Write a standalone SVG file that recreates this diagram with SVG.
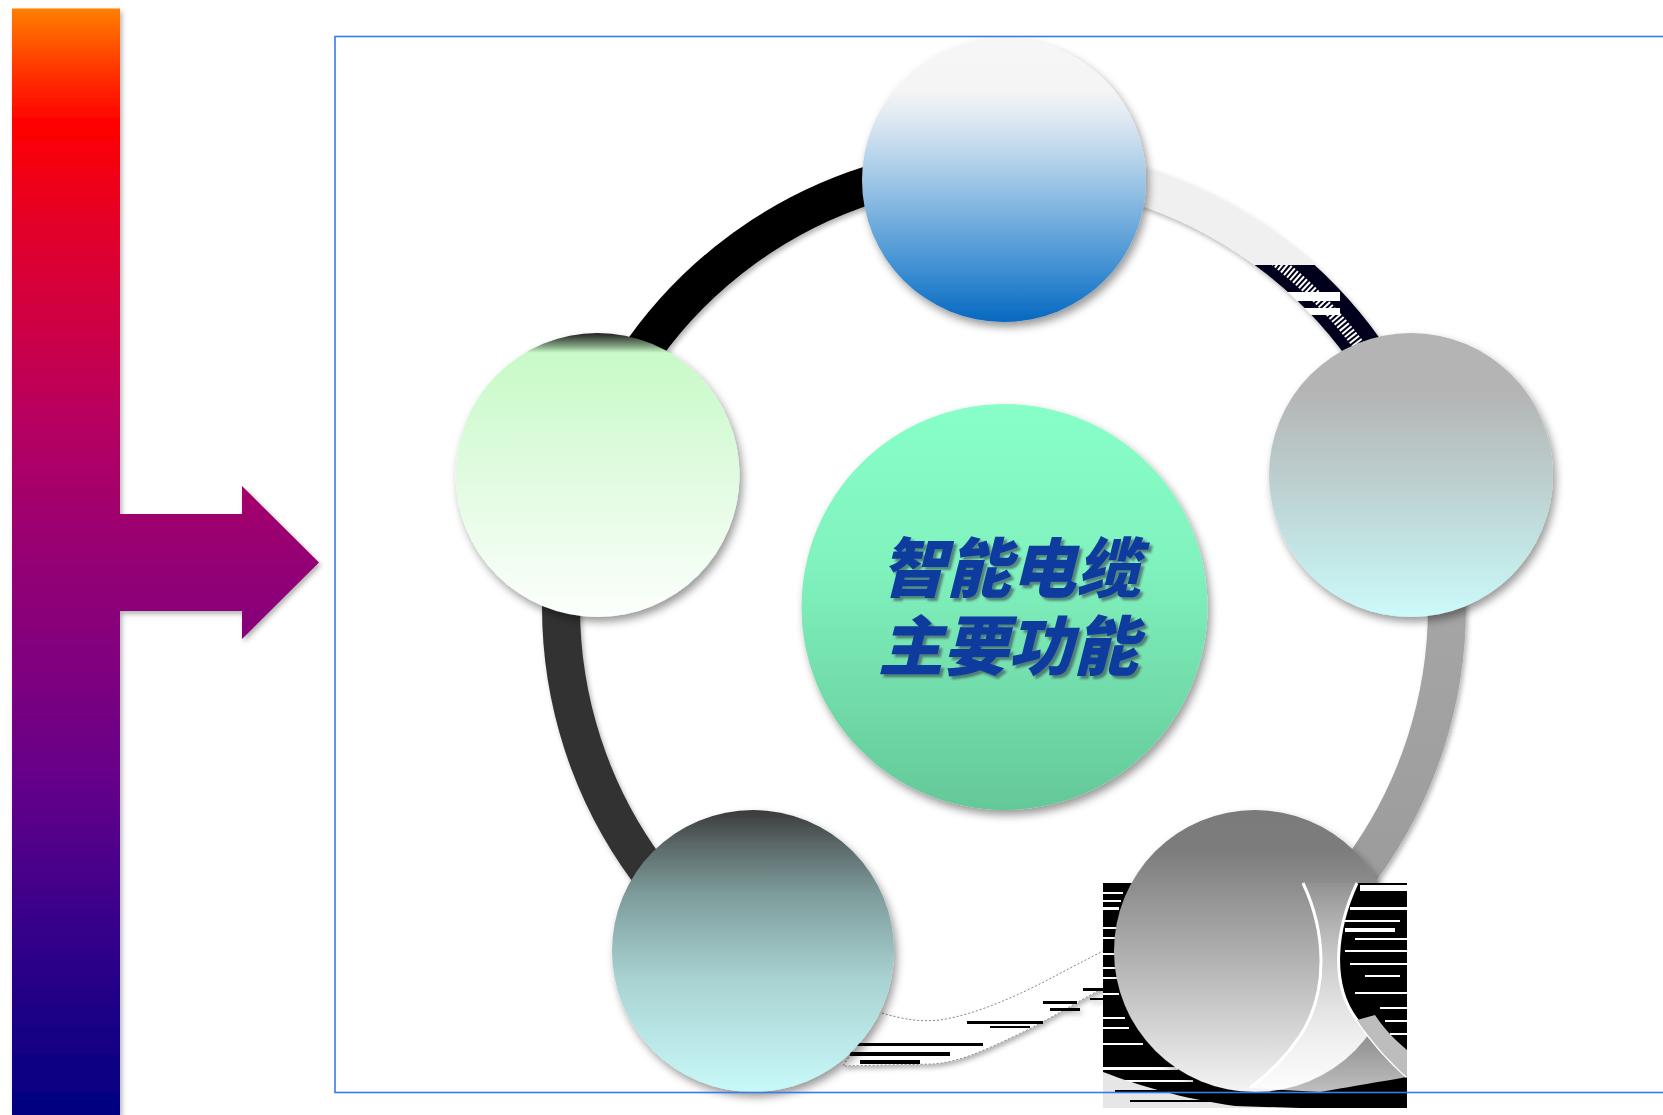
<svg xmlns="http://www.w3.org/2000/svg" width="1663" height="1115" viewBox="0 0 1663 1115">
<defs>
<style>
.seg{fill:none;stroke-width:38}
.node{filter:url(#sh)}
.lbl{font-family:"Noto Sans CJK SC","Noto Sans CJK JP",sans-serif;font-size:65px;font-weight:900;font-style:italic;fill:#0D3B9E;text-anchor:middle;filter:url(#tsh)}
.wst{fill:#fff}
.bst{fill:#000}
</style>
<linearGradient id="barG" gradientUnits="userSpaceOnUse" x1="0" y1="8" x2="0" y2="1115">
<stop offset="0" stop-color="#FF8000"/>
<stop offset="0.06" stop-color="#FF3000"/>
<stop offset="0.105" stop-color="#FF0000"/>
<stop offset="0.19" stop-color="#E50026"/>
<stop offset="0.29" stop-color="#CC0046"/>
<stop offset="0.38" stop-color="#B40062"/>
<stop offset="0.5" stop-color="#940074"/>
<stop offset="0.6" stop-color="#7E007E"/>
<stop offset="0.7" stop-color="#64008A"/>
<stop offset="0.83" stop-color="#36008A"/>
<stop offset="1" stop-color="#000080"/>
</linearGradient>
<linearGradient id="gTop" x1="0" y1="0" x2="0" y2="1">
<stop offset="0" stop-color="#F6F6F6"/>
<stop offset="0.18" stop-color="#F5F5F5"/>
<stop offset="0.29" stop-color="#DDE8F2"/>
<stop offset="0.47" stop-color="#A8CCE8"/>
<stop offset="0.64" stop-color="#74AEDD"/>
<stop offset="0.82" stop-color="#3D8ED2"/>
<stop offset="1" stop-color="#0568C0"/>
</linearGradient>
<linearGradient id="gRight" x1="0" y1="0" x2="0" y2="1">
<stop offset="0" stop-color="#B4B4B4"/>
<stop offset="0.2" stop-color="#B4B4B4"/>
<stop offset="0.5" stop-color="#BCCDCD"/>
<stop offset="0.8" stop-color="#C4E8E8"/>
<stop offset="1" stop-color="#CCFAFA"/>
</linearGradient>
<linearGradient id="gBR" x1="0" y1="0" x2="0" y2="1">
<stop offset="0" stop-color="#7A7A7A"/>
<stop offset="0.15" stop-color="#7D7D7D"/>
<stop offset="1" stop-color="#F4F4F4"/>
</linearGradient>
<linearGradient id="gBL" x1="0" y1="0" x2="0" y2="1">
<stop offset="0" stop-color="#3A3A3A"/>
<stop offset="0.12" stop-color="#5A6767"/>
<stop offset="0.3" stop-color="#7E9C9C"/>
<stop offset="0.6" stop-color="#A9D2D2"/>
<stop offset="1" stop-color="#C8F9F9"/>
</linearGradient>
<linearGradient id="gLeft" x1="0" y1="0" x2="0" y2="1">
<stop offset="0" stop-color="#1E1E1E"/>
<stop offset="0.045" stop-color="#7FA07F"/>
<stop offset="0.07" stop-color="#C8FAC8"/>
<stop offset="0.5" stop-color="#E0FBE0"/>
<stop offset="1" stop-color="#FCFFFC"/>
</linearGradient>
<linearGradient id="gCenter" x1="0" y1="0" x2="0" y2="1">
<stop offset="0" stop-color="#88FFC8"/>
<stop offset="0.4" stop-color="#80F2BE"/>
<stop offset="1" stop-color="#64C898"/>
</linearGradient>
<linearGradient id="gSeg3" x1="0" y1="0" x2="0" y2="1">
<stop offset="0" stop-color="#AAAAAA"/>
<stop offset="1" stop-color="#999999"/>
</linearGradient>
<linearGradient id="gHour" x1="0" y1="0" x2="0" y2="1">
<stop offset="0" stop-color="#fff" stop-opacity="0.05"/>
<stop offset="0.5" stop-color="#fff" stop-opacity="0.4"/>
<stop offset="1" stop-color="#fff" stop-opacity="0.75"/>
</linearGradient>
<filter id="sh" x="-20%" y="-20%" width="140%" height="140%">
<feDropShadow dx="3" dy="5" stdDeviation="4" flood-color="#000" flood-opacity="0.4"/>
</filter>
<filter id="ssh" x="-10%" y="-10%" width="120%" height="120%">
<feDropShadow dx="2" dy="3" stdDeviation="2.5" flood-color="#000" flood-opacity="0.3"/>
</filter>
<filter id="tsh" x="-10%" y="-20%" width="120%" height="140%">
<feDropShadow dx="3" dy="3" stdDeviation="1.2" flood-color="#334" flood-opacity="0.55"/>
</filter>
<clipPath id="c2"><rect x="1255" y="265" width="130" height="100"/></clipPath>
<mask id="m2" maskUnits="userSpaceOnUse" x="0" y="0" width="1663" height="1115">
<rect x="0" y="0" width="1663" height="1115" fill="#000"/>
<path d="M 1004 164 A 443 443 0 0 1 1425.3 470.1" fill="none" stroke="#fff" stroke-width="38"/>
</mask>
</defs>

<rect x="0" y="0" width="1663" height="1115" fill="#fff"/>

<g id="bar-arrow" filter="url(#ssh)">
<path d="M 12 8.5 H 120 V 514 H 242 V 486 L 319 562.5 L 242 639 V 611 H 120 V 1115 H 12 Z" fill="url(#barG)"/>
</g>

<g id="connectors" filter="url(#ssh)">
<path class="seg" d="M 582.7 470.1 A 443 443 0 0 1 1004 164" stroke="#000"/>
<path class="seg" d="M 1004 164 A 443 443 0 0 1 1425.3 470.1" stroke="#F0F0F0"/>
<path class="seg" d="M 1425.3 470.1 A 443 443 0 0 1 1264.4 965.4" stroke="url(#gSeg3)"/>
<path class="seg" d="M 743.6 965.4 A 443 443 0 0 1 582.7 470.1" stroke="#333"/>
<g mask="url(#m2)">
<rect x="1255" y="265" width="130" height="100" fill="#02021A"/>
<path d="M 1004 164 A 455 455 0 0 1 1425.3 470.1" fill="none" stroke="#fff" stroke-width="12" stroke-dasharray="2 2" clip-path="url(#c2)"/>
<rect class="wst" x="1275" y="292" width="65" height="9"/>
<rect class="wst" x="1290" y="308" width="50" height="7"/>
</g>
<path d="M 878 1012 C 905 1020, 920 1022, 940 1020 C 975 1015, 1020 995, 1057 975 L 1105 950 L 1105 987 C 1075 1003, 1045 1022, 1017 1035 C 985 1050, 960 1062, 933 1064 L 843 1066 Z" fill="#fff" stroke="#888" stroke-width="1" stroke-dasharray="2 2"/>
<g id="bottom-streaks">
<rect class="bst" x="857" y="1043" width="126" height="3"/>
<rect class="bst" x="850" y="1052" width="100" height="4"/>
<rect class="bst" x="860" y="1060" width="60" height="4"/>
<rect class="bst" x="967" y="1021" width="76" height="3"/>
<rect class="bst" x="990" y="1026" width="40" height="2"/>
<rect class="bst" x="1043" y="1001" width="34" height="3"/>
<rect class="bst" x="1050" y="1008" width="30" height="3"/>
<rect class="bst" x="1083" y="988" width="20" height="3"/>
<rect class="bst" x="1090" y="998" width="13" height="2"/>
</g>
</g>

<g id="artifact-br">
<rect x="1103" y="883" width="304" height="225" fill="#000"/>
<rect class="wst" x="1103" y="892" width="20" height="2"/>
<rect class="wst" x="1103" y="900" width="18" height="2"/>
<rect class="wst" x="1103" y="907" width="16" height="3"/>
<rect class="wst" x="1103" y="927" width="15" height="2"/>
<rect class="wst" x="1103" y="937" width="14" height="2"/>
<rect class="wst" x="1103" y="953" width="14" height="2"/>
<rect class="wst" x="1103" y="967" width="14" height="2"/>
<rect class="wst" x="1103" y="977" width="15" height="2"/>
<rect class="wst" x="1103" y="993" width="16" height="2"/>
<rect class="wst" x="1103" y="1017" width="22" height="2"/>
<rect class="wst" x="1103" y="1027" width="26" height="2"/>
<rect class="wst" x="1103" y="1043" width="40" height="2"/>
<rect class="wst" x="1103" y="1067" width="75" height="3"/>
<rect class="wst" x="1103" y="1080" width="90" height="2"/>
<path d="M 1103 1072 C 1140 1086, 1180 1098, 1235 1106 L 1300 1108 L 1103 1108 Z" fill="#E6E6E6"/>
<rect class="bst" x="1115" y="1090" width="60" height="2"/>
<rect class="bst" x="1130" y="1100" width="90" height="2"/>
</g>

<g id="node-top" class="node"><circle cx="1004" cy="180" r="142" fill="url(#gTop)"/></g>
<g id="node-right" class="node"><circle cx="1411" cy="475" r="142" fill="url(#gRight)"/></g>
<g id="node-bottom-right" class="node"><circle cx="1255" cy="951" r="141" fill="url(#gBR)"/></g>
<g id="node-bottom-left" class="node"><circle cx="753" cy="951" r="141" fill="url(#gBL)"/></g>
<g id="node-left" class="node"><circle cx="597.5" cy="475" r="142" fill="url(#gLeft)"/></g>
<g id="node-center" class="node">
<circle cx="1004.5" cy="607" r="203" fill="url(#gCenter)"/>
<text class="lbl"><tspan x="1011" y="592">智能电缆</tspan><tspan x="1008" y="670">主要功能</tspan></text>
</g>

<g id="artifact-br-over">
<path d="M 1357 883 C 1335 930, 1330 985, 1357 1020 C 1372 1042, 1390 1062, 1407 1077 L 1407 883 Z" fill="#000"/>
<path d="M 1303 883 C 1325 930, 1330 990, 1300 1036 C 1285 1058, 1270 1072, 1250 1088 L 1320 1092 C 1360 1085, 1390 1080, 1407 1077 C 1390 1062, 1372 1042, 1357 1020 C 1330 985, 1335 930, 1357 883 Z" fill="url(#gHour)"/>
<path d="M 1303 883 C 1325 930, 1330 990, 1300 1036 C 1285 1058, 1270 1072, 1250 1088" fill="none" stroke="#fff" stroke-width="3"/>
<path d="M 1357 883 C 1335 930, 1330 985, 1357 1020 C 1372 1042, 1390 1062, 1407 1077" fill="none" stroke="#fff" stroke-width="3"/>
<path d="M 1357 1020 C 1372 1042, 1390 1062, 1407 1077 L 1407 1050 C 1395 1040, 1385 1030, 1375 1015 Z" fill="#BDBDBD"/>
<rect class="wst" x="1360" y="885" width="47" height="6"/>
<rect class="wst" x="1350" y="907" width="57" height="3"/>
<rect class="wst" x="1345" y="920" width="55" height="2"/>
<rect class="wst" x="1345" y="928" width="50" height="4"/>
<rect class="wst" x="1355" y="938" width="52" height="2"/>
<rect class="wst" x="1345" y="950" width="62" height="2"/>
<rect class="wst" x="1350" y="963" width="57" height="2"/>
<rect class="wst" x="1365" y="975" width="35" height="2"/>
<rect class="wst" x="1355" y="992" width="52" height="2"/>
<rect class="wst" x="1380" y="1007" width="27" height="2"/>
<rect class="wst" x="1385" y="1020" width="22" height="2"/>
<rect class="wst" x="1390" y="1033" width="17" height="2"/>
</g>

<rect id="frame" x="335" y="36.5" width="1400" height="1056" fill="none" stroke="#3B78E8" stroke-width="1.6"/>
</svg>
